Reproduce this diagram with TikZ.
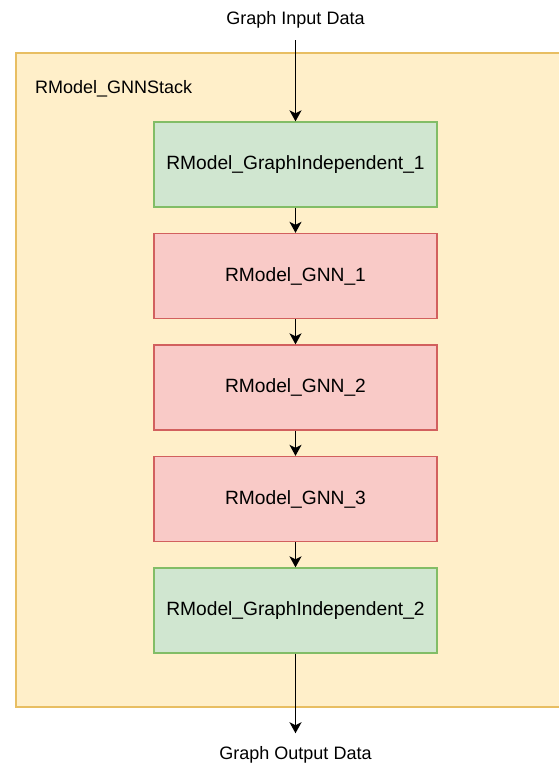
\documentclass[tikz,border=0pt]{standalone}
\usepackage{fontspec}
\setmainfont{Liberation Sans}
\usetikzlibrary{arrows.meta}
\definecolor{stackfill}{HTML}{FFEFC9}
\definecolor{stackline}{HTML}{E8BE62}
\definecolor{indepfill}{HTML}{D0E6D0}
\definecolor{indepline}{HTML}{82BD66}
\definecolor{gnnfill}{HTML}{F9CAC7}
\definecolor{gnnline}{HTML}{D2605E}
\tikzset{
	txt/.style={font=\fontsize{18}{22}\selectfont},
	block/.style={font=\fontsize{19.2}{23}\selectfont, draw, line width=1.3pt, minimum width=283pt, minimum height=85pt, inner sep=0pt},
	indep/.style={block, fill=indepfill, draw=indepline},
	gnn/.style={block, fill=gnnfill, draw=gnnline},
	io/.style={txt, inner sep=12.5pt, anchor=base},
	flow/.style={-{Stealth[length=11pt,width=12pt,inset=3pt]}, line width=1.7pt},
}

\begin{document}
\begin{tikzpicture}[x=1pt,y=-1pt]
	\useasboundingbox (0,0) rectangle (559,763);
	\clip (0,0) rectangle (559,763);
	\node[draw=stackline, fill=stackfill, line width=1.3pt, minimum width=564pt, minimum height=654pt] (stack) at (298,380) {};
	\node[txt, anchor=base west, inner sep=0pt] (stacklabel) at (35,93) {RModel\_GNNStack};
	\node[io] (input) at (295.5,24) {Graph Input Data};
	\node[indep] (GI1) at (295.5,164.5) {RModel\_GraphIndependent\_1};
	\node[gnn] (GNN1) at (295.5,276) {RModel\_GNN\_1};
	\node[gnn] (GNN2) at (295.5,387.5) {RModel\_GNN\_2};
	\node[gnn] (GNN3) at (295.5,499) {RModel\_GNN\_3};
	\node[indep] (GI2) at (295.5,610.5) {RModel\_GraphIndependent\_2};
	\node[io] (output) at (295.5,759) {Graph Output Data};
	\path[flow] (input) edge (GI1);
	\path[flow] (GI1) edge (GNN1);
	\path[flow] (GNN1) edge (GNN2);
	\path[flow] (GNN2) edge (GNN3);
	\path[flow] (GNN3) edge (GI2);
	\path[flow] (GI2) edge (output);
\end{tikzpicture}
\end{document}
